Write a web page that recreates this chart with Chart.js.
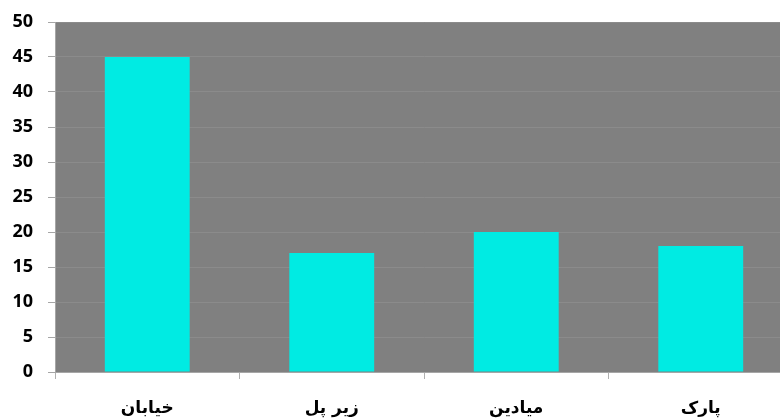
<!DOCTYPE html>
<html lang="fa">
<head>
<meta charset="UTF-8">
<title>Chart</title>
<script src="https://cdn.jsdelivr.net/npm/chart.js@4.4.1/dist/chart.umd.min.js"></script>
<style>
  html, body { margin: 0; padding: 0; background: #fff; overflow: hidden; }
  #wrap { width: 795px; height: 418px; position: relative; }
</style>
</head>
<body>
<div id="wrap"><canvas id="grafico"></canvas></div>
<script>
// datos
const categorias = ['خیابان', 'زیر پل', 'میادین', 'پارک'];
const valores = [45, 17, 20, 18];
const yMin = 0, yMax = 50, yPaso = 5;

// fondo gris del area de trazado
const fondoArea = {
  id: 'fondoArea',
  beforeDraw(chart) {
    const { ctx, chartArea: a } = chart;
    ctx.save();
    ctx.fillStyle = '#808080';
    ctx.fillRect(a.left, a.top, a.right - a.left, a.bottom - a.top);
    ctx.restore();
  }
};

new Chart(document.getElementById('grafico'), {
  type: 'bar',
  data: {
    labels: categorias,
    datasets: [{
      data: valores,
      backgroundColor: '#00ebe3',
      borderWidth: 0,
      barPercentage: 0.46,
      categoryPercentage: 1
    }]
  },
  options: {
    responsive: true,
    maintainAspectRatio: false,
    animation: false,
    layout: { padding: { top: 22, right: 2, left: 0, bottom: 0 } },
    plugins: { legend: { display: false }, tooltip: { enabled: false } },
    scales: {
      x: {
        grid: { drawOnChartArea: false, tickLength: 7, tickColor: '#b0b0b0', offset: true },
        border: { color: '#a6a6a6' },
        ticks: {
          color: '#000',
          padding: 19,
          font: { family: 'DejaVu Sans', size: 17, weight: 'bold' }
        },
        afterFit(s) { s.height = 46; }
      },
      y: {
        min: yMin,
        max: yMax,
        grid: { color: '#8b8b8b', tickLength: 7, tickColor: '#a6a6a6' },
        border: { color: '#a6a6a6' },
        ticks: {
          stepSize: yPaso,
          color: '#000',
          padding: 15,
          font: { family: 'Open Sans', size: 18, weight: 'bold', lineHeight: 0.6 }
        },
        afterFit(s) { s.width = 55; }
      }
    }
  },
  plugins: [fondoArea]
});
</script>
</body>
</html>
